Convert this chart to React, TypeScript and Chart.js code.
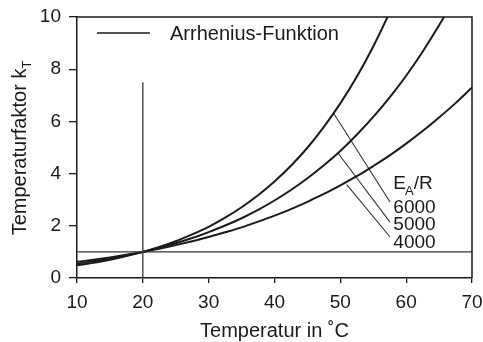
import { useEffect, useRef } from "react";
import { Chart, registerables } from "chart.js";

Chart.register(...registerables);

// Temperature grid in °C
const temps = [
  10, 12.5, 15, 17.5, 20, 22.5, 25, 27.5, 30, 32.5, 35, 37.5, 40, 42.5, 45,
  47.5, 50, 52.5, 55, 57.5, 60, 62.5, 65, 67.5, 70,
];

// Temperature factor k_T for E_A/R = 6000, 5000, 4000 (reference 20 °C)
const k6000 = [
  0.49, 0.58, 0.7, 0.84, 1, 1.19, 1.41, 1.67, 1.96, 2.31, 2.71, 3.17, 3.7,
  4.3, 4.99, 5.79, 6.69, 7.71, 8.87, 10.19, 11.67,
];
const k5000 = [
  0.55, 0.64, 0.74, 0.86, 1, 1.16, 1.33, 1.53, 1.76, 2.01, 2.29, 2.61, 2.97,
  3.37, 3.82, 4.32, 4.87, 5.49, 6.17, 6.92, 7.75, 8.67, 9.68, 10.79, 12.0,
];
const k4000 = [
  0.62, 0.7, 0.79, 0.89, 1, 1.12, 1.26, 1.41, 1.57, 1.75, 1.94, 2.16, 2.39,
  2.64, 2.92, 3.22, 3.55, 3.9, 4.29, 4.7, 5.15, 5.63, 6.15, 6.7, 7.3,
];

const curveNames = ["6000", "5000", "4000"];

// Reference temperature marker and k_T = 1 level
const refTemp = 20;
const refTempTop = 7.5;
const refLevel = 1;

// Leader lines from each curve to its label (data units)
const leaderStartX = [48.93, 49.69, 50.97];
const leaderStartY = [6.33, 4.77, 3.58];
const leaderEndX = [57.55, 57.55, 57.55];
const leaderEndY = [2.91, 2.14, 1.57];

// Label anchors (left edge x, baseline y) in data units
const labelX = 58.05;
const labelBaseY = [2.49, 1.82, 1.16];
const headerBaseY = 3.42;

const xTicks = [10, 20, 30, 40, 50, 60, 70];

const FONT = '"Liberation Sans", Arial, Helvetica, sans-serif';
const INK = "#1a1a1a";

const pts = (xs: number[], ys: number[]) =>
  ys.map((y, i) => ({ x: xs[i], y }));

const decorPlugin = {
  id: "decor",
  afterDraw(chart: any) {
    const { ctx, chartArea, scales } = chart;
    const xs = scales.x;
    const ys = scales.y;
    ctx.save();

    // top and right frame
    ctx.strokeStyle = INK;
    ctx.lineWidth = 1.5;
    ctx.beginPath();
    ctx.moveTo(chartArea.left, chartArea.top);
    ctx.lineTo(chartArea.right, chartArea.top);
    ctx.lineTo(chartArea.right, chartArea.bottom);
    ctx.stroke();

    ctx.fillStyle = INK;
    ctx.textBaseline = "alphabetic";
    ctx.textAlign = "left";

    // legend
    ctx.lineWidth = 1.6;
    ctx.beginPath();
    ctx.moveTo(chartArea.left + 20, chartArea.top + 16);
    ctx.lineTo(chartArea.left + 73, chartArea.top + 16);
    ctx.stroke();
    ctx.font = `20px ${FONT}`;
    ctx.fillText("Arrhenius-Funktion", chartArea.left + 93, chartArea.top + 23);

    // E_A/R header
    const lx = xs.getPixelForValue(labelX);
    const hy = ys.getPixelForValue(headerBaseY);
    ctx.font = `19px ${FONT}`;
    ctx.fillText("E", lx, hy);
    let w = ctx.measureText("E").width;
    ctx.font = `13px ${FONT}`;
    ctx.fillText("A", lx + w - 1, hy + 6);
    w += ctx.measureText("A").width - 1;
    ctx.font = `19px ${FONT}`;
    ctx.fillText("/R", lx + w, hy);

    // curve labels
    curveNames.forEach((name, i) => {
      ctx.fillText(name, lx, ys.getPixelForValue(labelBaseY[i]));
    });

    // x title
    ctx.textAlign = "center";
    ctx.font = `20px ${FONT}`;
    ctx.fillText("Temperatur in ˚C", (chartArea.left + chartArea.right) / 2, 337);

    // y title with subscript
    ctx.translate(26, 148);
    ctx.rotate(-Math.PI / 2);
    ctx.textAlign = "left";
    const main = "Temperaturfaktor k";
    ctx.font = `20px ${FONT}`;
    const mw = ctx.measureText(main).width;
    ctx.font = `13px ${FONT}`;
    const sw = ctx.measureText("T").width;
    const start = -(mw + sw) / 2;
    ctx.font = `20px ${FONT}`;
    ctx.fillText(main, start, 0);
    ctx.font = `13px ${FONT}`;
    ctx.fillText("T", start + mw, 5);

    ctx.restore();
  },
};

export default function App() {
  const ref = useRef<HTMLCanvasElement | null>(null);

  useEffect(() => {
    if (!ref.current) return;

    const curve = (data: number[]) => ({
      data: pts(temps, data),
      borderColor: INK,
      borderWidth: 2,
      pointRadius: 0,
      showLine: true,
      cubicInterpolationMode: "monotone" as const,
      clip: 0,
    });
    const straight = (
      x0: number,
      y0: number,
      x1: number,
      y1: number,
      width: number,
      color: string
    ) => ({
      data: [
        { x: x0, y: y0 },
        { x: x1, y: y1 },
      ],
      borderColor: color,
      borderWidth: width,
      pointRadius: 0,
      showLine: true,
      clip: 0,
    });

    const datasets: any[] = [
      straight(xTicks[0], refLevel, xTicks[xTicks.length - 1], refLevel, 1.3, "#333"),
      straight(refTemp, 0, refTemp, refTempTop, 1.3, "#333"),
      curve(k6000),
      curve(k5000),
      curve(k4000),
      ...leaderStartX.map((_, i) =>
        straight(leaderStartX[i], leaderStartY[i], leaderEndX[i], leaderEndY[i], 1.1, "#333")
      ),
    ];

    const chart = new Chart(ref.current, {
      type: "scatter",
      data: { datasets },
      options: {
        animation: false,
        responsive: false,
        devicePixelRatio: 1,
        layout: { padding: { top: 17, right: 11, left: 0, bottom: 0 } },
        plugins: {
          legend: { display: false },
          tooltip: { enabled: false },
        },
        scales: {
          x: {
            type: "linear",
            min: 10,
            max: 70,
            afterFit: (s: any) => {
              s.height = 64;
              s.paddingLeft = 0;
              s.paddingRight = 0;
            },
            afterBuildTicks: (s: any) => {
              s.ticks = xTicks.map((v) => ({ value: v }));
            },
            grid: {
              drawOnChartArea: false,
              drawTicks: true,
              tickLength: 5,
              color: INK,
              lineWidth: 1.3,
            },
            border: { display: true, color: INK, width: 1.5 },
            ticks: {
              color: INK,
              padding: 8,
              font: { family: FONT, size: 19 },
            },
          },
          y: {
            type: "linear",
            min: 0,
            max: 10,
            afterFit: (s: any) => {
              s.width = 77;
              s.paddingTop = 0;
              s.paddingBottom = 0;
            },
            grid: {
              drawOnChartArea: false,
              drawTicks: true,
              tickLength: 8,
              color: INK,
              lineWidth: 1.3,
            },
            border: { display: true, color: INK, width: 1.5 },
            ticks: {
              stepSize: 2,
              color: INK,
              padding: 8,
              font: { family: FONT, size: 19 },
            },
          },
        },
      },
      plugins: [decorPlugin],
    });

    return () => chart.destroy();
  }, []);

  return (
    <div
      style={{
        position: "fixed",
        left: 0,
        top: 0,
        width: 483,
        height: 342,
        background: "#fff",
      }}
    >
      <canvas ref={ref} width={483} height={342} />
    </div>
  );
}
